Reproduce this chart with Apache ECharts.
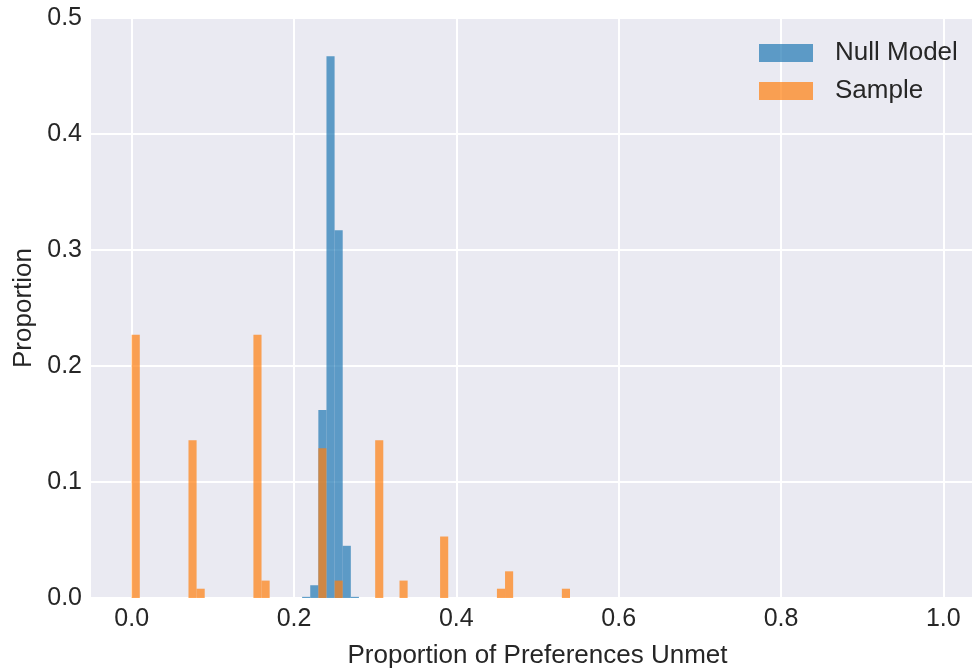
<!DOCTYPE html>
<html>
<head>
<meta charset="utf-8">
<script src="https://cdn.jsdelivr.net/npm/echarts@6/dist/echarts.min.js"></script>
<style>
html,body{margin:0;padding:0;background:#ffffff;}
#chart{width:972px;height:669px;}
</style>
</head>
<body>
<div id="chart"></div>
<script>
// Histogram bins (width 0.01), left edges and proportions
const binWidth = 0.01;
const nullBins = [0.21, 0.22, 0.23, 0.24, 0.25, 0.26, 0.27];
const nullValues = [0.001, 0.011, 0.162, 0.467, 0.317, 0.045, 0.001];
const sampleBins = [0.00, 0.07, 0.08, 0.15, 0.16, 0.23, 0.25, 0.30, 0.33, 0.38, 0.45, 0.46, 0.53];
const sampleValues = [0.227, 0.136, 0.008, 0.227, 0.015, 0.129, 0.015, 0.136, 0.015, 0.053, 0.008, 0.023, 0.008];
const xTicks = [0.0, 0.2, 0.4, 0.6, 0.8, 1.0];
const seriesNames = ['Null Model', 'Sample'];

const FONT = "'Liberation Sans', Arial, sans-serif";
const TXT = '#262626';

function toRows(bins, vals) {
  return bins.map((b, i) => [b, b + binWidth, vals[i]]);
}

function renderBar(params, api) {
  const p0 = api.coord([api.value(0), api.value(2)]);
  const p1 = api.coord([api.value(1), 0]);
  return {
    type: 'rect',
    shape: { x: p0[0], y: p0[1], width: p1[0] - p0[0], height: p1[1] - p0[1] },
    style: { fill: api.visual('color') }
  };
}

const chart = echarts.init(document.getElementById('chart'), null, { renderer: 'canvas' });
chart.setOption({
  animation: false,
  backgroundColor: '#ffffff',
  textStyle: { fontFamily: FONT },
  grid: {
    left: 91, right: 0, top: 18, bottom: 71,
    outerBoundsMode: 'none',
    containLabel: false,
    show: true, backgroundColor: '#eaeaf2', borderWidth: 0
  },
  legend: {
    data: seriesNames,
    orient: 'vertical',
    left: 759, top: 40,
    padding: 0,
    icon: 'rect',
    itemWidth: 54, itemHeight: 18,
    itemGap: 12,
    textStyle: { fontSize: 26, color: TXT, fontFamily: FONT, padding: [0, 0, 0, 17] }
  },
  xAxis: {
    type: 'value',
    min: -0.0501, max: 1.0353,
    name: 'Proportion of Preferences Unmet',
    nameLocation: 'middle',
    nameGap: 45,
    nameTextStyle: { fontSize: 26, color: TXT, fontFamily: FONT, padding: [0, 0, 0, 12] },
    axisLine: { show: false },
    axisTick: { show: false, customValues: xTicks },
    axisLabel: {
      customValues: xTicks,
      fontSize: 25, color: TXT, fontFamily: FONT, margin: 9,
      formatter: v => v.toFixed(1)
    },
    splitLine: { show: true, lineStyle: { color: '#ffffff', width: 2 } }
  },
  yAxis: {
    type: 'value',
    min: 0, max: 0.5, interval: 0.1,
    name: 'Proportion',
    nameLocation: 'middle',
    nameRotate: 90,
    nameGap: 54,
    nameTextStyle: { fontSize: 26, color: TXT, fontFamily: FONT },
    axisLine: { show: false },
    axisTick: { show: false },
    axisLabel: {
      fontSize: 25, color: TXT, fontFamily: FONT, margin: 9,
      formatter: v => v.toFixed(1)
    },
    splitLine: { show: true, lineStyle: { color: '#ffffff', width: 2 } }
  },
  series: [
    {
      name: seriesNames[0],
      type: 'custom',
      renderItem: renderBar,
      itemStyle: { color: 'rgba(31,119,180,0.7)' },
      encode: { x: [0, 1], y: 2 },
      data: toRows(nullBins, nullValues),
      z: 2
    },
    {
      name: seriesNames[1],
      type: 'custom',
      renderItem: renderBar,
      itemStyle: { color: 'rgba(255,127,14,0.7)' },
      encode: { x: [0, 1], y: 2 },
      data: toRows(sampleBins, sampleValues),
      z: 3
    }
  ]
});
</script>
</body>
</html>
